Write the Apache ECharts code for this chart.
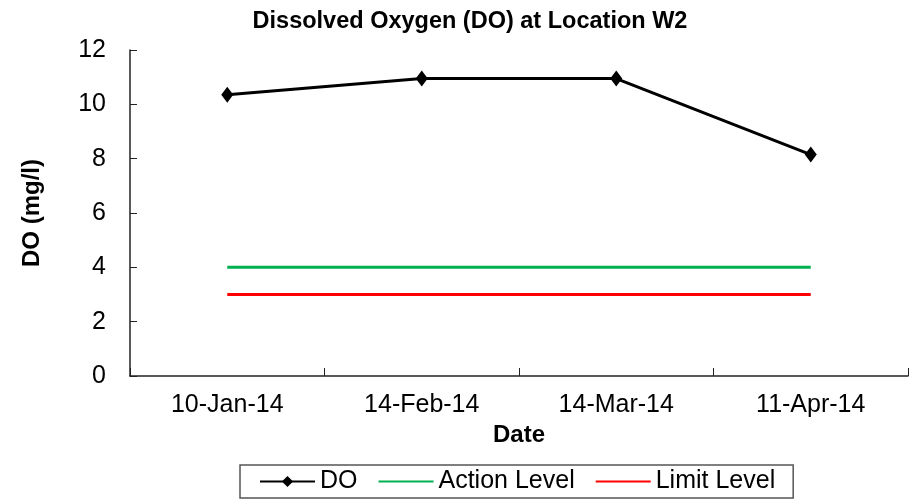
<!DOCTYPE html>
<html>
<head>
<meta charset="utf-8">
<script src="https://cdn.jsdelivr.net/npm/echarts@6/dist/echarts.min.js"></script>
<style>
  html, body { margin: 0; padding: 0; background: #fff; }
  #chart { width: 914px; height: 503px; }
</style>
</head>
<body>
<div id="chart"></div>
<script>
// data
const dates = ['10-Jan-14', '14-Feb-14', '14-Mar-14', '11-Apr-14'];
const doValues = [10.35, 10.95, 10.95, 8.15];
const actionLevel = [4, 4, 4, 4];
const limitLevel = [3, 3, 3, 3];

const font = 'Liberation Sans, Arial, sans-serif';
const myChart = echarts.init(document.getElementById('chart'));

myChart.setOption({
    animation: false,
    title: {
        text: 'Dissolved Oxygen (DO) at Location W2',
        left: 465, top: 5, textAlign: 'center',
        textStyle: { fontFamily: font, fontSize: 23.5, fontWeight: 'bold', color: '#000' }
    },
    grid: { left: 130, right: 6, top: 50, bottom: 127 },
    legend: {
        left: 240, top: 465,
        itemWidth: 55, itemHeight: 14, itemGap: 20,
        padding: [4, 18, 4, 19],
        borderColor: '#555', borderWidth: 1.5,
        textStyle: { fontFamily: font, fontSize: 25, color: '#000' },
        data: [
            { name: 'DO' },
            { name: 'Action Level', itemStyle: { opacity: 0 } },
            { name: 'Limit Level', itemStyle: { opacity: 0 } }
        ]
    },
    xAxis: {
        type: 'category',
        data: dates,
        boundaryGap: true,
        name: 'Date', nameLocation: 'middle', nameGap: 44,
        nameTextStyle: { fontFamily: font, fontSize: 24, fontWeight: 'bold', color: '#000' },
        axisLine: { show: true, lineStyle: { color: '#222', width: 1.5 } },
        axisTick: { show: true, inside: true, length: 8, interval: 0, lineStyle: { color: '#222', width: 1 } },
        axisLabel: { fontFamily: font, fontSize: 25, color: '#000', margin: 17, interval: 0 }
    },
    yAxis: {
        type: 'value', min: 0, max: 12, interval: 2,
        name: 'DO (mg/l)', nameLocation: 'middle', nameGap: 86, nameRotate: 90,
        nameTextStyle: { fontFamily: font, fontSize: 24, fontWeight: 'bold', color: '#000' },
        axisLine: { show: true, lineStyle: { color: '#222', width: 1.5 } },
        axisTick: { show: true, inside: true, length: 7, lineStyle: { color: '#222' } },
        splitLine: { show: false },
        axisLabel: { fontFamily: font, fontSize: 25, color: '#000', margin: 24 }
    },
    series: [
        {
            name: 'DO', type: 'line', data: doValues,
            symbol: 'diamond', symbolSize: [12, 16],
            lineStyle: { color: '#000', width: 3 },
            itemStyle: { color: '#000' }
        },
        {
            name: 'Action Level', type: 'line', data: actionLevel,
            symbol: 'none',
            lineStyle: { color: '#00B050', width: 3 },
            itemStyle: { color: '#00B050' }
        },
        {
            name: 'Limit Level', type: 'line', data: limitLevel,
            symbol: 'none',
            lineStyle: { color: '#FF0000', width: 3 },
            itemStyle: { color: '#FF0000' }
        }
    ]
});
</script>
</body>
</html>
